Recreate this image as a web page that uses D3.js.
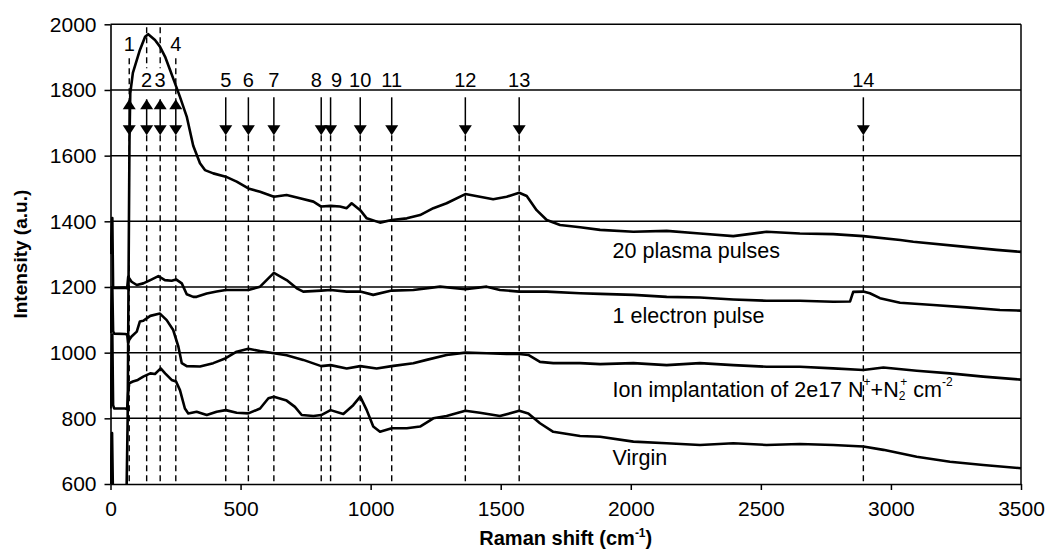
<!DOCTYPE html>
<html>
<head>
<meta charset="utf-8">
<script src="https://cdn.jsdelivr.net/npm/d3@7"></script>
<style>
    body { margin: 0; background: #fff; }
    svg { display: block; }
    text { font-family: "Liberation Sans", Arial, sans-serif; fill: #000; }
</style>
</head>
<body>
<svg id="drawing_region"></svg>
<script>
// tick values
const xTicks = [0, 500, 1000, 1500, 2000, 2500, 3000, 3500];
const yTicks = [600, 800, 1000, 1200, 1400, 1600, 1800, 2000];

// numbered peak positions (cm-1)
const peakShifts = [72, 139, 191, 251, 443, 530, 628, 810, 846, 960, 1081, 1364, 1571, 2894];
const peakNames = ['1','2','3','4','5','6','7','8','9','10','11','12','13','14'];

// spectra: [Raman shift, intensity]
const plasmaPulses = [
    [0,600],[6,755],[9,590],[62,590],[66,800],[70,1300],[73,1650],[76,1790],[86,1852],[113,1922],[133,1962],
    [145,1970],[171,1952],[190,1932],[210,1901],[229,1861],[248,1820],[267,1779],[293,1719],[318,1630],
    [344,1577],[363,1556],[395,1546],[443,1536],[485,1521],[530,1500],[575,1490],[628,1475],[677,1480],
    [728,1470],[780,1460],[810,1445],[846,1447],[882,1445],[908,1440],[927,1455],[960,1434],[985,1409],
    [1036,1396],[1081,1404],[1139,1409],[1190,1419],[1241,1440],[1292,1455],[1364,1483],[1420,1475],
    [1471,1467],[1523,1475],[1571,1487],[1600,1477],[1638,1434],[1677,1404],[1728,1389],[1805,1382],
    [1882,1374],[2010,1368],[2138,1371],[2266,1363],[2394,1355],[2522,1368],[2650,1363],[2778,1361],
    [2894,1355],[3036,1343],[3086,1338],[3278,1323],[3406,1313],[3500,1307]
];
const electronPulse = [
    [0,1300],[7,1410],[10,1200],[14,1197],[56,1198],[64,1196],[68,1231],[81,1216],[101,1206],[126,1211],[153,1221],
    [184,1233],[209,1221],[235,1219],[252,1223],[274,1211],[293,1178],[318,1170],[331,1170],[370,1180],
    [408,1186],[443,1191],[530,1191],[575,1201],[628,1243],[677,1221],[716,1196],[741,1186],[810,1189],
    [846,1191],[908,1186],[960,1186],[1010,1176],[1081,1189],[1164,1191],[1267,1201],[1364,1193],
    [1446,1201],[1497,1191],[1571,1186],[1677,1186],[1805,1181],[1882,1179],[2010,1176],[2138,1170],
    [2266,1168],[2394,1162],[2522,1158],[2650,1158],[2778,1155],[2843,1156],[2855,1185],[2894,1186],
    [2919,1181],[2958,1166],[3035,1152],[3163,1145],[3291,1138],[3419,1130],[3500,1128]
];
const ionImplant = [
    [0,1060],[7,1200],[10,1065],[14,1058],[56,1057],[64,1055],[68,1030],[72,1039],[81,1049],[101,1064],[113,1095],
    [126,1097],[153,1112],[190,1119],[216,1099],[241,1069],[261,1018],[274,968],[293,959],[344,958],
    [395,968],[443,983],[485,1003],[530,1012],[575,1005],[628,998],[677,992],[741,978],[810,959],
    [846,962],[908,952],[960,959],[1023,952],[1081,959],[1164,968],[1215,978],[1292,993],[1364,1000],
    [1446,998],[1523,996],[1571,996],[1606,993],[1651,972],[1702,968],[1805,968],[1882,965],[2010,968],
    [2138,962],[2266,968],[2394,962],[2522,957],[2650,957],[2778,952],[2894,947],[2971,955],[3099,945],
    [3227,937],[3355,927],[3500,918]
];
const virgin = [
    [0,830],[7,1055],[10,840],[14,830],[56,830],[64,828],[68,880],[72,907],[86,912],[105,917],[126,927],[153,937],
    [171,935],[193,952],[210,937],[235,917],[252,912],[267,886],[286,830],[299,815],[331,820],[370,810],
    [408,820],[443,825],[485,817],[530,815],[575,830],[607,861],[628,866],[677,854],[709,835],[735,810],
    [780,807],[810,810],[846,825],[895,813],[933,840],[960,866],[985,825],[1010,775],[1036,759],
    [1081,770],[1139,770],[1190,775],[1241,800],[1292,807],[1364,823],[1420,817],[1497,807],[1571,823],
    [1606,815],[1651,785],[1702,759],[1805,746],[1882,744],[2010,729],[2138,724],[2266,719],[2394,724],
    [2522,719],[2650,722],[2778,719],[2894,714],[2971,704],[3099,683],[3227,668],[3355,658],[3500,648]
];

const seriesNames = ['20 plasma pulses', '1 electron pulse', 'Ion implantation of 2e17 N', 'Virgin'];
const seriesData = [plasmaPulses, electronPulse, ionImplant, virgin];
// label anchor in data units (shift, intensity)
const labelShift = [1930, 1930, 1930, 1930];
const labelIntensity = [1310, 1112, 886, 679];

class RamanPlot {

    constructor( config ) {
        this.config = {
            parent: config.parent,
            width: config.width || 1047,
            height: config.height || 549,
            margin: config.margin || {top:24, right:26, bottom:65, left:110},
        };
        this.init();
    }

    init() {
        let self = this;

        self.svg = d3.select( self.config.parent )
            .attr('width', self.config.width)
            .attr('height', self.config.height);

        self.inner_width = self.config.width - self.config.margin.left - self.config.margin.right;
        self.inner_height = self.config.height - self.config.margin.top - self.config.margin.bottom;

        self.chart = self.svg.append('g')
            .attr('transform', `translate(${self.config.margin.left}, ${self.config.margin.top})`);

        self.xscale = d3.scaleLinear()
            .domain([0, 3500])
            .range([0.5, self.inner_width]);

        self.yscale = d3.scaleLinear()
            .domain([600, 2000])
            .range([self.inner_height, 0.3]);

        self.svg.append('defs').append('clipPath')
            .attr('id', 'plot_clip')
            .append('rect')
            .attr('x', 0)
            .attr('y', -2)
            .attr('width', self.inner_width + 2)
            .attr('height', self.inner_height + 2);
    }

    render() {
        let self = this;
        const x = self.xscale, y = self.yscale;
        const top = y(2000);

        // horizontal grid
        self.chart.append('g')
            .selectAll('line')
            .data(yTicks.filter(d => d > 600))
            .join('line')
            .attr('x1', x(0)).attr('x2', x(3500))
            .attr('y1', d => y(d)).attr('y2', d => y(d))
            .attr('stroke', '#000').attr('stroke-width', 1.5);

        // right frame
        self.chart.append('line')
            .attr('x1', x(3500)).attr('x2', x(3500))
            .attr('y1', top).attr('y2', y(600))
            .attr('stroke', '#000').attr('stroke-width', 1.5);

        // dashed peak lines
        const arrowTip = top + 111;      // tip of lower arrow head
        const upTip = top + 75;
        const peaks = self.chart.append('g');
        peakShifts.forEach( (p, i) => {
            const px = x(p);
            const dbl = i < 4;
            peaks.append('line')
                .attr('x1', px).attr('x2', px)
                .attr('y1', arrowTip).attr('y2', y(600))
                .attr('stroke', '#000').attr('stroke-width', 1.4)
                .attr('stroke-dasharray', '6,4');
            if (dbl) {
                const upper = (i === 0 || i === 3);
                peaks.append('line')
                    .attr('x1', px).attr('x2', px)
                    .attr('y1', upper ? top + 34 : top + 3)
                    .attr('y2', upper ? upTip : top + 44)
                    .attr('stroke', '#000').attr('stroke-width', 1.4)
                    .attr('stroke-dasharray', '6,4');
            }
        });

        // spectra
        const line = d3.line()
            .x(d => x(d[0]))
            .y(d => y(d[1]));

        self.chart.append('g')
            .attr('clip-path', 'url(#plot_clip)')
            .selectAll('path')
            .data(seriesData)
            .join('path')
            .attr('d', line)
            .attr('fill', 'none')
            .attr('stroke', '#000')
            .attr('stroke-width', 2.6)
            .attr('stroke-linejoin', 'round');

        // arrows
        peakShifts.forEach( (p, i) => {
            const px = x(p);
            const dbl = i < 4;
            const lineTop = dbl ? upTip : top + 73;
            peaks.append('line')
                .attr('x1', px).attr('x2', px)
                .attr('y1', lineTop).attr('y2', arrowTip - 5)
                .attr('stroke', '#000').attr('stroke-width', 1.5);
            peaks.append('path')
                .attr('d', `M${px - 6.5},${arrowTip - 10}L${px + 6.5},${arrowTip - 10}L${px},${arrowTip}Z`)
                .attr('fill', '#000');
            if (dbl) {
                peaks.append('path')
                    .attr('d', `M${px - 6.5},${upTip + 10}L${px + 6.5},${upTip + 10}L${px},${upTip}Z`)
                    .attr('fill', '#000');
            }
            const upper = (i === 0 || i === 3);
            // 8 and 9 sit close together, so their labels are nudged apart
            const nudge = i === 7 ? -5 : (i === 8 ? 6 : 0);
            peaks.append('text')
                .attr('x', px + nudge)
                .attr('y', upper ? top + 20 : top + 56)
                .attr('text-anchor', 'middle')
                .attr('dominant-baseline', 'central')
                .attr('font-size', '20px')
                .text(peakNames[i]);
        });

        // axes
        const xaxis = d3.axisBottom(x)
            .tickValues(xTicks)
            .tickFormat(d3.format('d'))
            .tickSize(6)
            .tickPadding(11)
            .tickSizeOuter(0);
        const yaxis = d3.axisLeft(y)
            .tickValues(yTicks)
            .tickFormat(d3.format('d'))
            .tickSize(6)
            .tickPadding(8)
            .tickSizeOuter(0);

        const xg = self.chart.append('g')
            .attr('transform', `translate(0, ${self.inner_height})`)
            .call(xaxis);
        const yg = self.chart.append('g')
            .attr('transform', 'translate(0.5, 0)')
            .call(yaxis);
        [xg, yg].forEach(g => {
            g.select('.domain').attr('stroke-width', 1.6);
            g.selectAll('.tick line').attr('stroke-width', 1.5);
            g.selectAll('.tick text')
                .attr('font-size', '21px')
                .attr('font-family', '"Liberation Sans", Arial, sans-serif');
        });

        // series labels
        seriesNames.forEach( (name, i) => {
            const t = self.chart.append('text')
                .attr('x', x(labelShift[i]))
                .attr('y', y(labelIntensity[i]))
                .attr('dominant-baseline', 'central')
                .attr('font-size', '21.5px')
                .text(name);
            if (i === 2) {
                t.append('tspan').attr('font-size', '12px').attr('dy', -8).text('+');
                t.append('tspan').attr('dy', 8).text('+N');
                t.append('tspan').attr('font-size', '12px').attr('dy', 6).text('2');
                t.append('tspan').attr('font-size', '12px').attr('dx', -5).attr('dy', -14).text('+');
                t.append('tspan').attr('dy', 8).text(' cm');
                t.append('tspan').attr('font-size', '12px').attr('dy', -8).text('-2');
            }
        });

        // axis titles
        const xl = self.svg.append('text')
            .attr('x', self.config.margin.left + x(1750))
            .attr('y', 545)
            .attr('text-anchor', 'middle')
            .attr('font-size', '20px')
            .attr('font-weight', 'bold')
            .text('Raman shift (cm');
        xl.append('tspan').attr('font-size', '12px').attr('dy', -8).text('-1');
        xl.append('tspan').attr('dy', 8).text(')');

        self.svg.append('text')
            .attr('transform', `translate(27, ${self.config.margin.top + y(1300)}) rotate(-90)`)
            .attr('text-anchor', 'middle')
            .attr('font-size', '19px')
            .attr('font-weight', 'bold')
            .text('Intensity (a.u.)');
    }
}

let raman_plot = new RamanPlot({ parent: '#drawing_region', width: 1047, height: 549 });
raman_plot.render();
</script>
</body>
</html>
